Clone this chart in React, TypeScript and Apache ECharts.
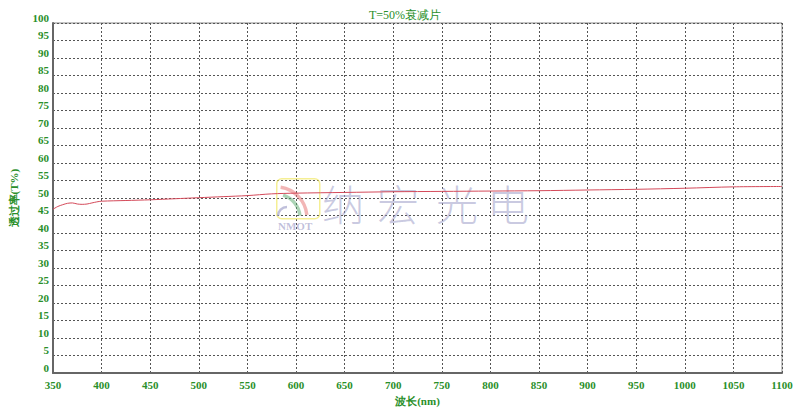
import React, { useEffect, useRef } from "react";
import * as echarts from "echarts";

const wavelengths = [350, 355, 360, 365, 370, 375, 380, 385, 390, 395, 400, 425, 450, 475, 500, 525, 550, 575, 600, 650, 700, 750, 800, 850, 900, 950, 1000, 1050, 1100];
const transmission = [46.8, 47.6, 48.1, 48.5, 48.6, 48.3, 48.2, 48.3, 48.6, 48.9, 49.1, 49.3, 49.5, 49.8, 50.1, 50.4, 50.7, 51.2, 51.4, 51.6, 51.8, 51.9, 52.0, 52.1, 52.3, 52.5, 52.8, 53.2, 53.3];
const titleText = "T=50%衰减片";
const xName = "波长(nm)";
const yName = "透过率(T%)";
const watermarkChars = ["纳", "宏", "光", "电"];

const green = "#2a8f2a";
const font = "'Liberation Serif', 'DejaVu Serif', serif";

export default function App() {
  const ref = useRef<HTMLDivElement>(null);
  useEffect(() => {
    if (!ref.current) return;
    const chart = echarts.init(ref.current, null, { renderer: "svg" });
    const charX = [322, 377, 436, 487];
    chart.setOption({
      animation: false,
      backgroundColor: "#fff",
      title: {
        text: titleText,
        left: 400,
        top: 4,
        textAlign: "center",
        textStyle: { color: green, fontSize: 12, fontWeight: "normal", fontFamily: font },
      },
      grid: { left: 49, right: 18, top: 23, bottom: 33, show: true, borderColor: "#888", borderWidth: 1 },
      xAxis: {
        type: "value",
        min: 350,
        max: 1100,
        interval: 50,
        name: xName,
        nameLocation: "middle",
        nameGap: 17,
        nameTextStyle: { color: green, fontSize: 11, fontFamily: font, fontWeight: "bold" },
        axisLine: { show: true, lineStyle: { color: "#666", width: 2 } },
        axisTick: { show: false },
        axisLabel: { color: green, fontSize: 11, fontFamily: font, fontWeight: "bold", margin: 6, formatter: (v: number) => String(v) },
        splitLine: { show: true, lineStyle: { color: "#555", type: [2, 2], width: 1 } },
      },
      yAxis: {
        type: "value",
        min: 0,
        max: 100,
        interval: 5,
        name: yName,
        nameLocation: "middle",
        nameGap: 34,
        nameRotate: 90,
        nameTextStyle: { color: green, fontSize: 11, fontFamily: font, fontWeight: "bold" },
        axisLine: { show: true, lineStyle: { color: "#666", width: 2 } },
        axisTick: { show: false },
        axisLabel: { color: green, fontSize: 11, fontFamily: font, fontWeight: "bold", margin: 4, verticalAlign: "bottom" },
        splitLine: { show: true, lineStyle: { color: "#555", type: [2, 2], width: 1 } },
      },
      graphic: [
        {
          type: "rect",
          left: 276,
          top: 178,
          shape: { width: 43, height: 40, r: 5 },
          style: { fill: "rgba(255,255,255,0)", stroke: "rgba(240,230,90,0.65)", lineWidth: 1.5 },
          z: 1,
        },
        {
          type: "arc",
          shape: { cx: 276, cy: 218, r: 31, startAngle: -Math.PI / 2 + 0.15, endAngle: -0.1 },
          style: { stroke: "rgba(230,110,110,0.5)", lineWidth: 3.5, fill: "none" },
          z: 1,
        },
        {
          type: "arc",
          shape: { cx: 276, cy: 218, r: 24, startAngle: -Math.PI / 2 + 0.3, endAngle: -0.1 },
          style: { stroke: "rgba(90,170,110,0.5)", lineWidth: 3.5, fill: "none" },
          z: 1,
        },
        {
          type: "arc",
          shape: { cx: 287, cy: 216, r: 9, startAngle: Math.PI, endAngle: -Math.PI / 2 },
          style: { stroke: "rgba(150,150,195,0.6)", lineWidth: 2.5, fill: "none" },
          z: 1,
        },
        {
          type: "text",
          left: 278,
          top: 220,
          style: { text: "NMOT", fill: "rgba(150,150,195,0.6)", font: "bold 11px 'Liberation Serif', serif" },
          z: 1,
        },
        ...watermarkChars.map((c, i) => ({
          type: "text",
          left: charX[i],
          top: 181,
          style: { text: c, fill: "rgba(150,150,195,0.5)", font: "300 42px 'Noto Sans CJK SC', sans-serif" },
          z: 1,
        })),
      ],
      series: [
        {
          type: "line",
          data: wavelengths.map((w, i) => [w, transmission[i]]),
          showSymbol: false,
          smooth: 0.3,
          lineStyle: { color: "#d44a5a", width: 1 },
          z: 5,
        },
      ],
    });
    return () => chart.dispose();
  }, []);
  return <div ref={ref} style={{ width: 800, height: 411, position: "absolute", left: 0, top: 0 }} />;
}
